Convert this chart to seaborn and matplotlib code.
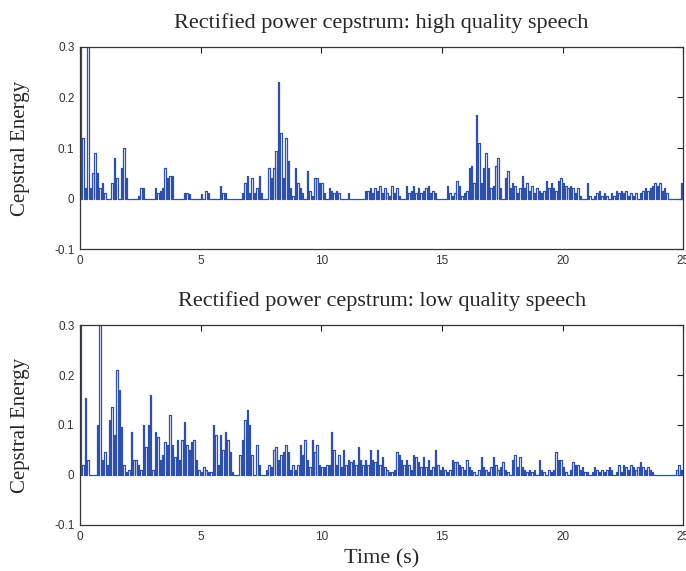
import numpy as np
import pandas as pd
import seaborn as sns
import matplotlib.pyplot as plt

sns.set_style("white")
plt.rcParams['font.family'] = ['Liberation Sans', 'DejaVu Sans']

# values, one row per second, bins of 0.1 s
bin_width = 0.1

high_quality = [
    0.35, 0.12, 0.02, 0.35, 0.02, 0.05, 0.09, 0.05, 0.02, 0.03,
    0.01, 0.0, 0.0, 0.03, 0.08, 0.04, 0.0, 0.06, 0.10, 0.04,
    0.0, 0.0, 0.0, 0.0, 0.005, 0.02, 0.02, 0.0, 0.0, 0.0,
    0.0, 0.02, 0.01, 0.015, 0.02, 0.06, 0.04, 0.045, 0.045, 0.0,
    0.0, 0.0, 0.0, 0.01, 0.01, 0.008, 0.0, 0.0, 0.0, 0.0,
    0.008, 0.0, 0.015, 0.01, 0.0, 0.0, 0.0, 0.0, 0.025, 0.01,
    0.01, 0.0, 0.0, 0.0, 0.0, 0.0, 0.0, 0.01, 0.03, 0.045,
    0.01, 0.04, 0.01, 0.02, 0.045, 0.01, 0.0, 0.0, 0.06, 0.04,
    0.06, 0.095, 0.23, 0.13, 0.04, 0.12, 0.075, 0.02, 0.005, 0.06,
    0.03, 0.02, 0.01, 0.0, 0.055, 0.015, 0.005, 0.04, 0.04, 0.03,
    0.03, 0.01, 0.0, 0.02, 0.015, 0.01, 0.015, 0.01, 0.0, 0.0,
    0.0, 0.01, 0.0, 0.0, 0.0, 0.0, 0.0, 0.0, 0.015, 0.015,
    0.02, 0.01, 0.02, 0.015, 0.025, 0.01, 0.02, 0.01, 0.005, 0.025,
    0.01, 0.02, 0.005, 0.0, 0.0, 0.025, 0.01, 0.015, 0.025, 0.01,
    0.02, 0.01, 0.015, 0.02, 0.025, 0.01, 0.015, 0.01, 0.0, 0.0,
    0.0, 0.0, 0.025, 0.01, 0.005, 0.01, 0.035, 0.025, 0.005, 0.01,
    0.015, 0.06, 0.065, 0.03, 0.165, 0.11, 0.03, 0.06, 0.09, 0.06,
    0.02, 0.025, 0.065, 0.08, 0.02, 0.0, 0.04, 0.055, 0.02, 0.03,
    0.025, 0.01, 0.02, 0.045, 0.02, 0.03, 0.015, 0.025, 0.01, 0.02,
    0.015, 0.01, 0.015, 0.035, 0.02, 0.03, 0.02, 0.015, 0.035, 0.04,
    0.03, 0.025, 0.02, 0.025, 0.02, 0.01, 0.02, 0.005, 0.0, 0.0,
    0.03, 0.005, 0.0, 0.005, 0.01, 0.015, 0.005, 0.01, 0.005, 0.0,
    0.01, 0.005, 0.015, 0.01, 0.015, 0.01, 0.015, 0.005, 0.01, 0.005,
    0.01, 0.0, 0.01, 0.015, 0.02, 0.015, 0.02, 0.025, 0.03, 0.025,
    0.03, 0.015, 0.02, 0.01, 0.0, 0.0, 0.0, 0.0, 0.0, 0.03,
]

low_quality = [
    0.35, 0.02, 0.155, 0.03, 0.0, 0.0, 0.0, 0.10, 0.35, 0.03,
    0.045, 0.02, 0.11, 0.135, 0.08, 0.21, 0.17, 0.095, 0.02, 0.005,
    0.01, 0.085, 0.03, 0.03, 0.02, 0.01, 0.10, 0.055, 0.10, 0.16,
    0.01, 0.085, 0.075, 0.03, 0.04, 0.065, 0.06, 0.12, 0.06, 0.035,
    0.07, 0.03, 0.07, 0.105, 0.06, 0.05, 0.065, 0.07, 0.03, 0.01,
    0.005, 0.015, 0.01, 0.005, 0.005, 0.10, 0.08, 0.02, 0.08, 0.05,
    0.085, 0.07, 0.045, 0.005, 0.0, 0.0, 0.04, 0.07, 0.11, 0.13,
    0.10, 0.04, 0.0, 0.06, 0.02, 0.0, 0.0, 0.01, 0.02, 0.015,
    0.05, 0.055, 0.03, 0.04, 0.045, 0.06, 0.045, 0.01, 0.02, 0.01,
    0.02, 0.06, 0.04, 0.07, 0.03, 0.015, 0.07, 0.045, 0.06, 0.02,
    0.015, 0.015, 0.02, 0.02, 0.085, 0.05, 0.02, 0.04, 0.015, 0.05,
    0.02, 0.03, 0.025, 0.03, 0.02, 0.055, 0.03, 0.02, 0.03, 0.02,
    0.05, 0.03, 0.025, 0.05, 0.02, 0.035, 0.015, 0.01, 0.005, 0.005,
    0.01, 0.045, 0.04, 0.03, 0.02, 0.03, 0.02, 0.01, 0.04, 0.035,
    0.025, 0.015, 0.035, 0.015, 0.03, 0.01, 0.015, 0.05, 0.02, 0.01,
    0.015, 0.01, 0.005, 0.01, 0.03, 0.025, 0.025, 0.02, 0.015, 0.01,
    0.03, 0.015, 0.01, 0.005, 0.0, 0.01, 0.035, 0.015, 0.01, 0.005,
    0.015, 0.035, 0.02, 0.01, 0.015, 0.025, 0.01, 0.005, 0.0, 0.03,
    0.04, 0.015, 0.035, 0.015, 0.01, 0.005, 0.01, 0.005, 0.01, 0.0,
    0.03, 0.01, 0.005, 0.0, 0.01, 0.005, 0.01, 0.045, 0.03, 0.03,
    0.015, 0.005, 0.0, 0.01, 0.025, 0.02, 0.02, 0.01, 0.015, 0.005,
    0.005, 0.0, 0.005, 0.015, 0.01, 0.005, 0.01, 0.005, 0.01, 0.015,
    0.01, 0.0, 0.005, 0.02, 0.005, 0.02, 0.015, 0.01, 0.02, 0.015,
    0.01, 0.015, 0.025, 0.015, 0.01, 0.015, 0.01, 0.005, 0.0, 0.0,
    0.0, 0.0, 0.0, 0.0, 0.0, 0.0, 0.0, 0.01, 0.02, 0.01,
]

titles = ["Rectified power cepstrum: high quality speech",
          "Rectified power cepstrum: low quality speech"]
x_ticks = [0, 5, 10, 15, 20, 25]
y_ticks = [-0.1, 0, 0.1, 0.2, 0.3]
y_tick_labels = ["-0.1", "0", "0.1", "0.2", "0.3"]

line_color = "#2f50a8"
serif = ['Liberation Serif', 'DejaVu Serif']
pulse = 0.6  # part of each bin that is "on" before dropping back to 0


def pulse_frame(vals):
    # each bin: value at the bin start, back to zero part way through
    t0 = np.arange(len(vals)) * bin_width
    t = np.column_stack([t0, t0 + pulse * bin_width]).ravel()
    v = np.column_stack([vals, np.zeros(len(vals))]).ravel()
    return pd.DataFrame({'t': np.append(t, 25.0), 'v': np.append(v, 0.0)})


fig = plt.figure(figsize=(6.86, 5.71), dpi=100)
ax_top = fig.add_axes([0.1166, 0.5639, 0.8795, 0.3538])
ax_bot = fig.add_axes([0.1166, 0.0806, 0.8795, 0.3502])

for ax, vals, title in [(ax_top, high_quality, titles[0]), (ax_bot, low_quality, titles[1])]:
    df = pulse_frame(vals)
    sns.lineplot(data=df, x='t', y='v', ax=ax, drawstyle='steps-post',
                 color=line_color, linewidth=0.9, sort=False)
    ax.set_xlim(0, 25)
    ax.set_ylim(-0.1, 0.3)
    ax.set_xticks(x_ticks)
    ax.set_xticklabels([str(v) for v in x_ticks])
    ax.set_yticks(y_ticks)
    ax.set_yticklabels(y_tick_labels)
    ax.tick_params(direction='in', length=4, width=0.8, labelsize=8.5,
                   top=True, right=True, color='#222222', labelcolor='#333333', pad=4)
    for sp in ax.spines.values():
        sp.set_color('#333333')
        sp.set_linewidth(0.9)
    ax.set_title(title, family=serif, fontsize=16, pad=14)
    ax.set_xlabel('')
    ax.set_ylabel('Cepstral Energy', family=serif, fontsize=15)
    ax.yaxis.set_label_coords(-0.083, 0.5)

ax_bot.set_xlabel('Time (s)', family=serif, fontsize=16, labelpad=5)

fig.savefig('out.png', dpi=100)
